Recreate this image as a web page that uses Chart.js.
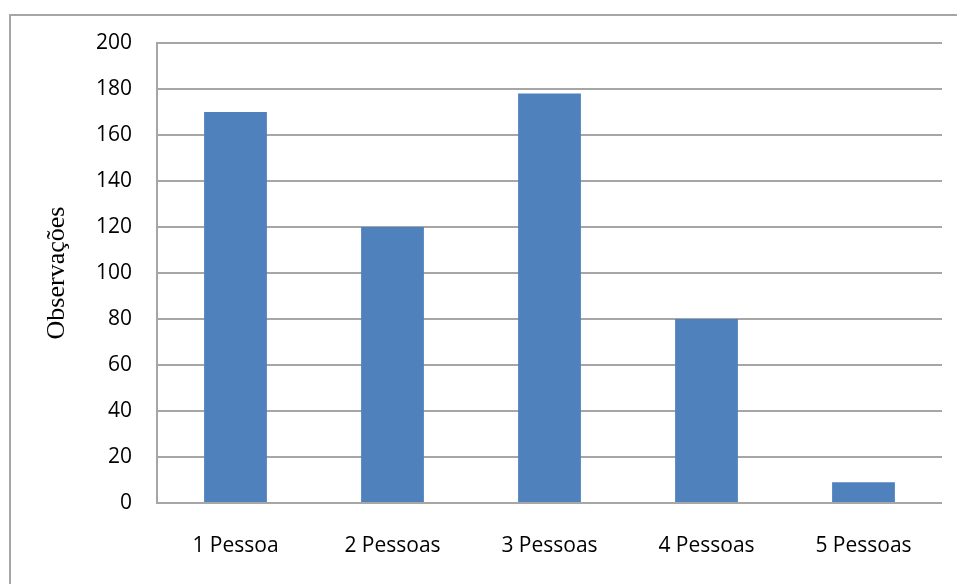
<!DOCTYPE html>
<html>
<head>
<meta charset="utf-8">
<script src="https://cdn.jsdelivr.net/npm/chart.js@4/dist/chart.umd.min.js"></script>
<style>
  html, body { margin: 0; padding: 0; background: #ffffff; }
  canvas { display: block; }
</style>
</head>
<body>
<canvas id="chart" width="957" height="584"></canvas>
<script>
// Household size categories and number of observations
const categories = ['1 Pessoa', '2 Pessoas', '3 Pessoas', '4 Pessoas', '5 Pessoas'];
const observacoes = [170, 120, 178, 80, 9];
const yTicks = { min: 0, max: 200, step: 20 };
const yTitle = 'Observações';

// Outer chart frame (left and top edges visible, rest runs past the canvas)
const framePlugin = {
  id: 'frame',
  beforeDraw(chart) {
    const ctx = chart.ctx;
    ctx.save();
    ctx.strokeStyle = '#a6a6a6';
    ctx.lineWidth = 2;
    ctx.beginPath();
    ctx.moveTo(10, chart.height + 5);
    ctx.lineTo(10, 15);
    ctx.lineTo(chart.width + 5, 15);
    ctx.stroke();
    ctx.restore();
  }
};

new Chart(document.getElementById('chart'), {
  type: 'bar',
  data: {
    labels: categories,
    datasets: [{
      data: observacoes,
      backgroundColor: '#4f81bd',
      borderWidth: 0,
      barPercentage: 0.4,
      categoryPercentage: 1
    }]
  },
  options: {
    responsive: false,
    animation: false,
    layout: { padding: { left: 0, top: 0, right: 15, bottom: 0 } },
    plugins: {
      legend: { display: false },
      tooltip: { enabled: false }
    },
    scales: {
      x: {
        grid: { display: false, drawTicks: false },
        border: { display: false },
        ticks: {
          color: '#000000',
          padding: 30,
          font: { family: 'Open Sans', size: 21 }
        },
        afterFit(scale) { scale.height = 81; }
      },
      y: {
        min: yTicks.min,
        max: yTicks.max,
        grid: { color: '#a6a6a6', lineWidth: 2, drawTicks: false },
        border: { display: true, color: '#a6a6a6', width: 2 },
        ticks: {
          stepSize: yTicks.step,
          color: '#000000',
          padding: 25,
          font: { family: 'Open Sans', size: 21 }
        },
        title: {
          display: true,
          text: yTitle,
          color: '#000000',
          padding: { top: 42, bottom: 0 },
          font: { family: 'Liberation Serif', size: 26 }
        },
        afterFit(scale) {
          scale.width = 157;
          scale.paddingTop = 43;
        }
      }
    }
  },
  plugins: [framePlugin]
});
</script>
</body>
</html>
